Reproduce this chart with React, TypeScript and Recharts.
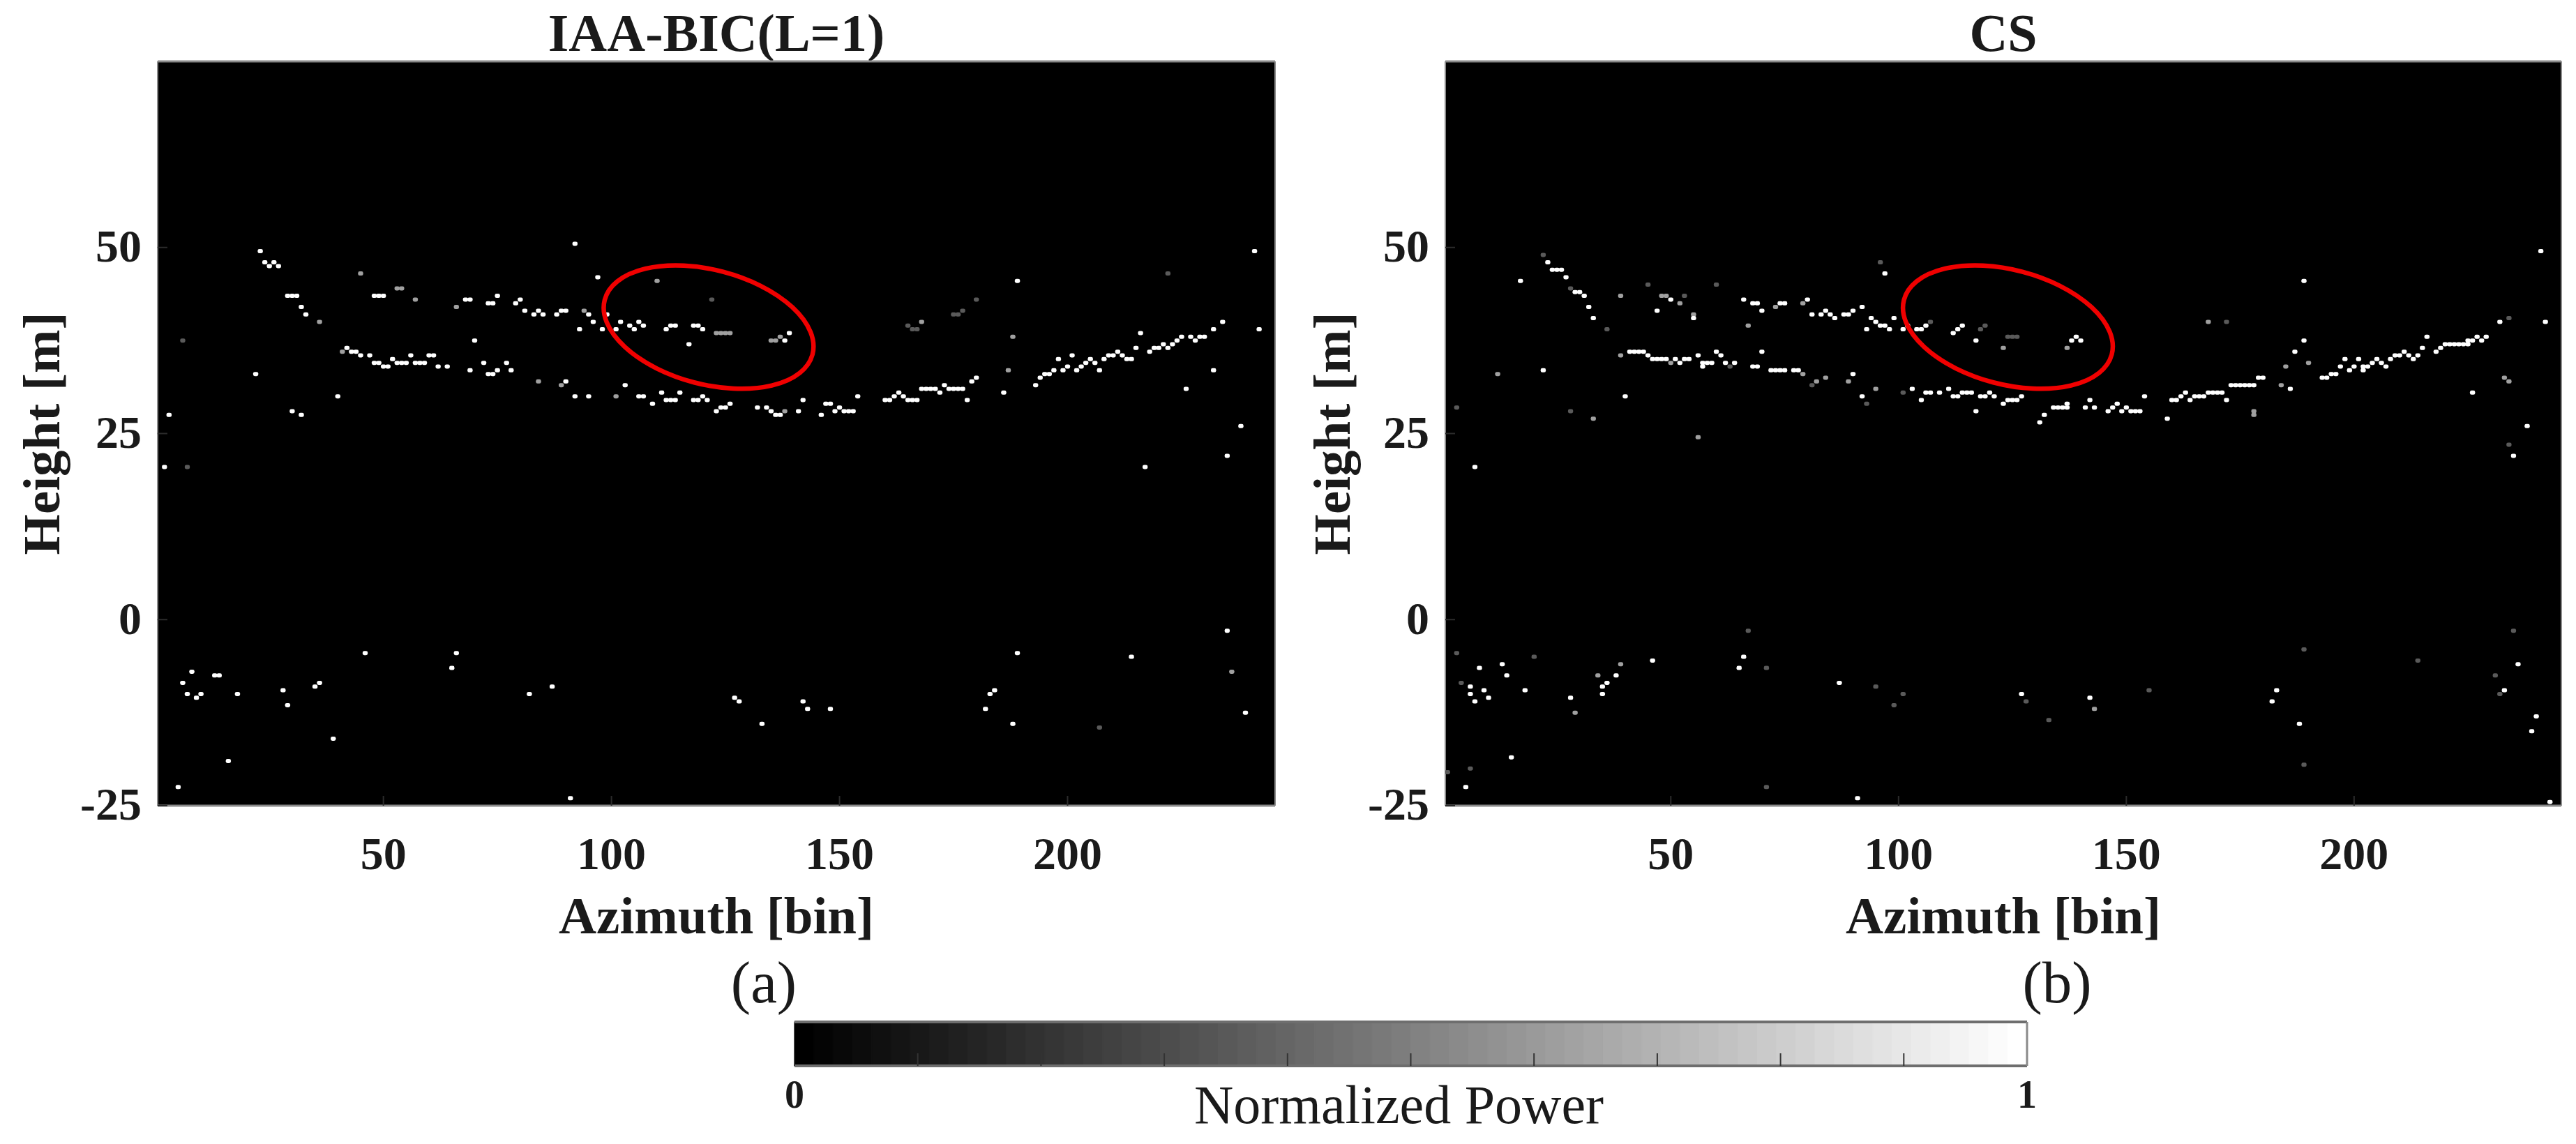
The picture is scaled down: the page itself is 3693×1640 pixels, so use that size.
import React from "react";
import {
  ScatterChart, Scatter, XAxis, YAxis, CartesianGrid, BarChart, Bar, Cell,
} from "recharts";

type P = [number, number];

const xTicks = [50, 100, 150, 200];
const yTicks = [-25, 0, 25, 50];
const xDomain: P = [0.5, 245.5];
const yDomain: P = [-25, 75];
const colorbarTicks = [0, 0.1, 0.2, 0.3, 0.4, 0.5, 0.6, 0.7, 0.8, 0.9, 1];
const colorbarLevels = [
  0, 4, 8, 12, 16, 20, 24, 28, 32, 36, 40, 45, 49, 53, 57, 61,
  65, 69, 73, 77, 81, 85, 89, 93, 97, 101, 105, 109, 113, 117, 121, 125,
  130, 134, 138, 142, 146, 150, 154, 158, 162, 166, 170, 174, 178, 182, 186, 190,
  194, 198, 202, 206, 210, 215, 219, 223, 227, 231, 235, 239, 243, 247, 251, 255,
];

const leftBright: P[] = [
  [23,49.5],[24,48],[25,47.5],[26,48],[27,47.5],[29,43.5],[30,43.5],[31,43.5],[48,43.5],[49,43.5],[50,43.5],
  [68,43],[69,43],[32,42],[33,41],[73,42.5],[74,42.5],[75,43.5],[70,37.5],[42,36.5],[43,36],[44,36],[45,35.5],
  [47,35.5],[56,35.5],[60,35.5],[61,35.5],[52,35],[48,34.5],[49,34.5],[53,34.5],[54,34.5],[55,34.5],[57,34.5],
  [58,34.5],[59,34.5],[72,34.5],[77,34.5],[50,34],[51,34],[62,34],[64,34],[69,33.5],[75,33.5],[73,33],[74,33],
  [22,33],[40,30],[30,28],[3,27.5],[32,27.5],[2,20.5],
  [92,50.5],[97,46],[80,43],[79,42.5],[81,41.5],[84,41.5],[83,41],[85,41],[88,41],[89,41.5],[90,41.5],[95,41],
  [96,40],[93,39],[98,39],[99,41],[101,39],[102,40],[104,39.5],[105,39],[106,40],[107,39.5],[112,39],[113,39.5],
  [114,39.5],[118,39.5],[119,39.5],[120,39],[117,37],[138,37.5],[139,38.5],[78,33.5],[90,32],[103,31.5],[92,30],
  [95,30],[106,30],[107,30],[111,30.5],[115,30.5],[112,29.5],[113,29.5],[114,29.5],[109,29],[118,29.5],[119,29.5],
  [120,30],[121,29.5],[123,28],[124,28.5],[125,28.5],[126,29],[132,28.5],[134,28.5],[135,28],[136,27.5],[137,27.5],
  [141,28],[142,29.5],[146,27.5],[147,29],[148,29],[149,28],[150,28.5],[151,28],[152,28],[153,28],
  [154,30],[160,29.5],[161,29.5],[162,30],[163,30.5],[164,30],[165,29.5],[166,29.5],[167,29.5],[168,31],[169,31],
  [170,31],[171,31],[172,30.5],[173,31.5],[174,31],[175,31],[176,31],[177,31],[178,29.5],[179,32],[180,32.5],
  [186,30.5],[189,45.5],[193,31.5],[194,32.5],[195,33],[196,33],[197,33.5],[198,35],[199,33.5],[200,34],[201,35.5],
  [202,33.5],[203,34],[204,34.5],[205,35],[206,34.5],[207,33.5],[208,35],[209,35.5],[210,35.5],[211,36],[212,35.5],
  [213,35],[214,35],[215,36.5],[216,38.5],[218,36],[219,36.5],[220,36.5],[221,37],[222,36.5],[223,37],[224,37.5],
  [225,38],[227,38],[228,37.5],[229,38],[230,38],[232,39],[232,33.5],[234,40],[226,31],[238,26],[235,22],[217,20.5],
  [241,49.5],[242,39],
  [46,-4.5],[66,-4.5],[65,-6.5],[8,-7],[13,-7.5],[14,-7.5],[6,-8.5],[7,-10],[9,-10.5],[10,-10],[18,-10],[28,-9.5],
  [29,-11.5],[35,-9],[36,-8.5],[82,-10],[87,-9],[39,-16],[16,-19],[5,-22.5],[91,-24],[127,-10.5],[128,-11],[133,-14],
  [142,-11],[143,-12],[148,-12],[182,-12],[183,-10],[184,-9.5],[189,-4.5],[188,-14],[214,-5],[235,-1.5],[239,-12.5],
];
const leftGrey: P[] = [
  [45,46.5],[53,44.5],[54,44.5],[57,43],[66,42],[36,40],[41,36],[110,45.5],[94,41.5],[123,38.5],[124,38.5],[125,38.5],
  [126,38.5],[135,37.5],[136,37.5],[137,38],[84,32],[89,31.5],[101,30],[138,28],[187,33.5],[188,38],[168,40],[236,-7],
];
const leftDim: P[] = [
  [6,37.5],[7,20.5],[122,43],[180,43],[177,41.5],[175,41],[176,41],[165,39.5],[166,39],[167,39],[222,46.5],[207,-14.5],
];

const rightBright: P[] = [
  [23,48],[24,47],[25,47],[26,47],[27,46],[17,45.5],[29,44],[30,44],[31,43.5],[32,42],[33,40.5],[50,43],[47,41.5],
  [55,40.5],[66,43],[68,42.5],[69,42.5],[70,41.5],[74,42.5],[75,42.5],[41,36],[42,36],[43,36],[44,36],[45,35.5],
  [46,35],[47,35],[48,35],[49,35],[51,35],[52,34.5],[53,35],[54,35],[56,35.5],[57,34.5],[58,34.5],[59,34.5],[57,34],
  [60,36],[61,35.5],[62,34.5],[64,34.5],[68,34],[69,34],[70,36],[72,33.5],[73,33.5],[74,33.5],[75,33.5],[77,33.5],
  [22,33.5],[40,30],[7,20.5],
  [97,46.5],[80,43],[81,41],[83,41],[84,41.5],[85,41],[86,40.5],[88,41],[89,41],[90,41.5],[92,42],[94,40.5],[95,40],
  [96,39.5],[97,39.5],[98,39],[93,39],[99,40.5],[101,39],[102,39.5],[104,39],[105,39],[106,39.5],[112,38.5],[113,39],
  [114,39.5],[117,37.5],[138,37.5],[139,38],[140,37.5],[78,33.5],[90,33],[92,30],[103,31],[105,29.5],[106,30.5],
  [107,30.5],[109,30.5],[111,31],[112,30],[113,30],[114,30.5],[115,30.5],[116,30.5],[118,30],[119,30],[120,30.5],
  [121,30],[123,29],[124,29.5],[125,29.5],[126,29.5],[127,30],[117,28],[132,27.5],[131,26.5],[134,28.5],[135,28.5],
  [136,28.5],[137,28.5],[137,29],[141,28.5],[142,29.5],[143,28.5],[146,28],[147,28.5],[148,29],[149,28],[150,28.5],
  [151,28],[152,28],[153,28],
  [154,30],[160,29.5],[161,29.5],[162,30],[163,30.5],[164,29.5],[165,30],[166,30],[167,30],[168,30.5],[169,30.5],
  [170,30.5],[171,30.5],[172,29.5],[173,31.5],[174,31.5],[175,31.5],[176,31.5],[177,31.5],[178,31.5],[179,32.5],
  [180,32.5],[159,27],[186,31],[187,36],[189,37.5],[189,45.5],[193,32.5],[194,32.5],[195,33],[196,33],[197,34],
  [198,35],[199,33.5],[200,34],[201,35],[202,33.5],[202,34],[203,34],[204,34.5],[205,35],[206,34.5],[207,34],[208,35],
  [209,35.5],[210,35.5],[211,36],[212,35.5],[213,35],[214,35.5],[215,36.5],[216,38],[218,36],[219,36.5],[220,37],
  [221,37],[222,37],[223,37],[224,37],[225,37.5],[226,37.5],[225,37],[227,38],[228,37.5],[229,38],[232,40],[242,40],
  [241,49.5],[226,30.5],[238,26],[235,22],
  [8,-6.5],[13,-6],[14,-7.5],[6,-9],[6,-10],[9,-9.5],[7,-11],[10,-10.5],[18,-9.5],[28,-10.5],[36,-8.5],[35,-9],[35,-10],
  [38,-7.5],[46,-5.5],[65,-6.5],[66,-5],[87,-8.5],[127,-10],[142,-10.5],[183,-9.5],[182,-11],[188,-14],[236,-6],
  [233,-9.5],[240,-13],[239,-15],[15,-18.5],[5,-22.5],[91,-24],[243,-24.5],
];
const rightGrey: P[] = [
  [39,43.5],[48,43.5],[49,43.5],[52,42.5],[73,42],[67,39.5],[39,35.5],[50,34.5],[12,33],[33,27],[56,24.5],[55,41],
  [79,42.5],[84,32.5],[82,32],[89,32],[95,31],[123,36.5],[137,36.5],[79,33],[168,40],[184,31.5],[185,34],[190,34.5],
  [178,28],[178,27.5],[233,32.5],[234,32],[29,-12.5],[34,-7.5],[39,-6],[143,-12],
];
const rightDim: P[] = [
  [22,49],[28,44.5],[36,39],[45,45],[53,43.5],[60,45],[63,34],[3,28.5],[28,28],[96,48],[118,39],[119,39.5],[107,40],
  [124,38],[125,38],[126,38],[81,31.5],[101,30.5],[93,29],[172,40],[234,40.5],[234,23.5],
  [3,-4.5],[20,-5],[4,-8.5],[67,-1.5],[71,-6.5],[95,-9],[101,-10],[99,-11.5],[128,-11],[133,-13.5],[155,-9.5],[189,-4],
  [189,-19.5],[214,-5.5],[231,-7.5],[235,-1.5],[232,-10],[6,-20],[1,-20.5],[71,-22.5],
];

const leftEllipseCentre = [{ x: 121.3, y: 39.3 }];
const rightEllipseCentre = [{ x: 124, y: 39.3 }];

const toPoints = (list: P[]) => list.map(([x, y]) => ({ x, y }));
const SERIF = "'Liberation Serif', 'Times New Roman', serif";
const AXIS_GREY = "#8a8a8a";

const binCell = (props: any) => (
  <rect
    x={props.cx - 3.7}
    y={props.cy - 3}
    width={7.4}
    height={6}
    rx={2.4}
    fill={props.fill}
    style={{ filter: "blur(0.5px)" }}
  />
);

const redEllipse = (props: any) => (
  <ellipse
    cx={props.cx}
    cy={props.cy}
    rx={154}
    ry={82}
    fill="none"
    stroke="#f00000"
    strokeWidth={6.5}
    transform={`rotate(14.7 ${props.cx} ${props.cy})`}
  />
);

type PanelProps = {
  left: number;
  width: number;
  leftGutter: number;
  rightGutter: number;
  title: string;
  caption: string;
  captionX: number;
  bright: P[];
  grey: P[];
  dim: P[];
  ellipse: { x: number; y: number }[];
};

const TOP = 88;
const BOTTOM = 1155;
const CHART_H = 1470;

function Panel(p: PanelProps) {
  const plotCentre = p.leftGutter + (p.width - p.leftGutter - p.rightGutter) / 2;
  const xAxisH = CHART_H - BOTTOM;
  return (
    <div style={{ position: "absolute", left: p.left, top: 0 }}>
      <ScatterChart
        width={p.width}
        height={CHART_H}
        margin={{ top: TOP - 1, right: p.rightGutter - 1, bottom: 0, left: 0 }}
      >
        <CartesianGrid fill="#000000" horizontal={false} vertical={false} />
        <XAxis
          dataKey="x"
          type="number"
          domain={xDomain}
          ticks={xTicks}
          allowDataOverflow
          height={xAxisH}
          tickSize={-14}
          tickMargin={58}
          interval={0}
          axisLine={{ stroke: AXIS_GREY, strokeWidth: 3 }}
          tickLine={{ stroke: "#2b2b2b", strokeWidth: 2 }}
          tick={{ fill: "#1a1a1a", fontFamily: SERIF, fontSize: 66, fontWeight: 700 }}
          label={{
            value: "Azimuth [bin]",
            position: "insideBottom",
            offset: 132,
            fill: "#1a1a1a",
            fontFamily: SERIF,
            fontSize: 75,
            fontWeight: 700,
          }}
        />
        <XAxis
          xAxisId="top"
          orientation="top"
          type="number"
          domain={xDomain}
          allowDataOverflow
          height={1}
          tick={false}
          axisLine={{ stroke: AXIS_GREY, strokeWidth: 3 }}
        />
        <YAxis
          dataKey="y"
          type="number"
          domain={yDomain}
          ticks={yTicks}
          allowDataOverflow
          width={p.leftGutter}
          tickSize={-14}
          tickMargin={37}
          interval={0}
          axisLine={{ stroke: AXIS_GREY, strokeWidth: 2 }}
          tickLine={{ stroke: "#2b2b2b", strokeWidth: 2 }}
          tick={{ fill: "#1a1a1a", fontFamily: SERIF, fontSize: 66, fontWeight: 700, dy: -3 }}
          label={{
            value: "Height [m]",
            angle: -90,
            position: "insideLeft",
            offset: 58,
            style: { textAnchor: "middle" },
            fill: "#1a1a1a",
            fontFamily: SERIF,
            fontSize: 75,
            fontWeight: 700,
          }}
        />
        <YAxis
          yAxisId="right"
          orientation="right"
          type="number"
          domain={yDomain}
          allowDataOverflow
          width={1}
          tick={false}
          axisLine={{ stroke: AXIS_GREY, strokeWidth: 2 }}
        />
        <Scatter data={toPoints(p.dim)} fill="#5a5a5a" shape={binCell} isAnimationActive={false} />
        <Scatter data={toPoints(p.grey)} fill="#a0a0a0" shape={binCell} isAnimationActive={false} />
        <Scatter data={toPoints(p.bright)} fill="#ffffff" shape={binCell} isAnimationActive={false} />
        <Scatter data={p.ellipse} fill="#f00000" shape={redEllipse} isAnimationActive={false} />
        <text
          x={plotCentre}
          y={73}
          textAnchor="middle"
          fontFamily={SERIF}
          fontSize={76}
          fontWeight={700}
          fill="#1a1a1a"
        >
          {p.title}
        </text>
        <text
          x={p.captionX}
          y={1437}
          textAnchor="middle"
          fontFamily={SERIF}
          fontSize={85}
          fill="#1a1a1a"
        >
          {p.caption}
        </text>
      </ScatterChart>
    </div>
  );
}

const levelRows = colorbarLevels.map((level) => ({ level, span: 1, power: level / 255 }));

function Colorbar() {
  return (
    <div style={{ position: "absolute", left: 1100, top: 1440 }}>
      <BarChart
        width={1900}
        height={200}
        data={levelRows}
        barCategoryGap={0}
        margin={{ top: 24, right: 93, bottom: 0, left: 39 }}
      >
        <XAxis dataKey="level" type="category" hide height={0} />
        <YAxis type="number" domain={[0, 1]} hide width={0} />
        <Bar dataKey="span" isAnimationActive={false}>
          {levelRows.map((row) => (
            <Cell
              key={row.level}
              fill={`rgb(${row.level},${row.level},${row.level})`}
              stroke={`rgb(${row.level},${row.level},${row.level})`}
              strokeWidth={1.2}
            />
          ))}
        </Bar>
        <XAxis
          xAxisId="scale"
          dataKey="power"
          type="number"
          domain={[0, 1]}
          allowDataOverflow
          ticks={colorbarTicks}
          interval={0}
          height={112}
          tickSize={-18}
          tickMargin={38}
          tickFormatter={(v: number) => (v === 0 || v === 1 ? String(v) : "")}
          axisLine={{ stroke: "#6e6e6e", strokeWidth: 4 }}
          tickLine={{ stroke: "#333333", strokeWidth: 2 }}
          tick={{ fill: "#1a1a1a", fontFamily: SERIF, fontSize: 56, fontWeight: 700 }}
          label={{
            value: "Normalized Power",
            position: "insideBottom",
            offset: 30,
            dx: -17,
            fill: "#1a1a1a",
            fontFamily: SERIF,
            fontSize: 78,
          }}
        />
        <XAxis
          xAxisId="edge"
          dataKey="power"
          orientation="top"
          type="number"
          domain={[0, 1]}
          allowDataOverflow
          height={1}
          tick={false}
          axisLine={{ stroke: "#6e6e6e", strokeWidth: 4 }}
        />
        <YAxis
          yAxisId="edge"
          orientation="right"
          type="number"
          domain={[0, 1]}
          allowDataOverflow
          width={1}
          tick={false}
          axisLine={{ stroke: "#8a8a8a", strokeWidth: 3 }}
        />
      </BarChart>
    </div>
  );
}

export default function App() {
  return (
    <div
      style={{
        position: "absolute",
        left: 0,
        top: 0,
        width: 3693,
        height: 1640,
        background: "#ffffff",
        overflow: "hidden",
      }}
    >
      <Panel
        left={0}
        width={1850}
        leftGutter={226}
        rightGutter={22}
        title="IAA-BIC(L=1)"
        caption="(a)"
        captionX={1095}
        bright={leftBright}
        grey={leftGrey}
        dim={leftDim}
        ellipse={leftEllipseCentre}
      />
      <Panel
        left={1850}
        width={1843}
        leftGutter={222}
        rightGutter={21}
        title="CS"
        caption="(b)"
        captionX={1099}
        bright={rightBright}
        grey={rightGrey}
        dim={rightDim}
        ellipse={rightEllipseCentre}
      />
      <Colorbar />
    </div>
  );
}
